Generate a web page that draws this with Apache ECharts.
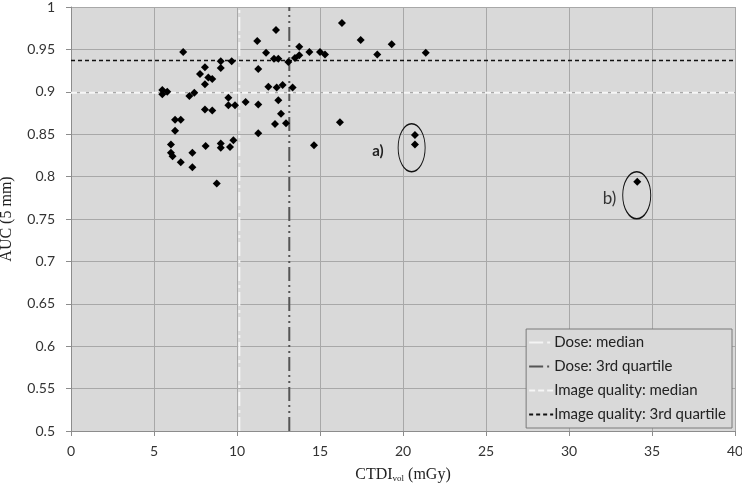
<!DOCTYPE html>
<html>
<head>
<meta charset="utf-8">
<script src="https://cdn.jsdelivr.net/npm/echarts@6/dist/echarts.min.js"></script>
<style>
  html, body { margin: 0; padding: 0; background: #fff; }
  #chart { width: 742px; height: 486px; }
</style>
</head>
<body>
<div id="chart"></div>
<script>
// CTDIvol (mGy) per protocol
const ctdi = [6.76, 8.07, 7.77, 8.27, 8.51, 8.07, 9.02, 9.02, 9.68, 5.50, 5.80, 5.50, 7.13, 7.43,
  9.48, 9.48, 9.88, 10.52, 11.28, 8.07, 8.51, 6.27, 6.61, 6.27, 11.28, 6.02, 6.02, 6.12, 6.61,
  7.31, 7.31, 8.11, 9.02, 9.02, 9.58, 9.78, 8.78, 11.22, 11.28, 12.35, 11.75, 12.23, 12.49,
  13.09, 13.49, 13.75, 13.75, 14.36, 15.00, 15.30, 16.32, 11.89, 12.39, 12.75, 13.35, 12.49,
  12.65, 12.29, 12.95, 16.20, 14.64, 17.45, 19.32, 18.45, 21.37, 20.72, 20.72, 34.11]
// AUC (5 mm) for the same protocols
const auc = [0.947, 0.929, 0.921, 0.917, 0.915, 0.909, 0.936, 0.928, 0.936, 0.902, 0.900, 0.897, 0.895, 0.899,
  0.893, 0.884, 0.884, 0.888, 0.885, 0.879, 0.878, 0.867, 0.867, 0.854, 0.851, 0.838, 0.828, 0.824, 0.817,
  0.828, 0.811, 0.836, 0.839, 0.834, 0.835, 0.843, 0.792, 0.960, 0.927, 0.973, 0.946, 0.939, 0.939,
  0.935, 0.940, 0.953, 0.943, 0.947, 0.947, 0.944, 0.981, 0.906, 0.905, 0.908, 0.905, 0.890,
  0.874, 0.862, 0.863, 0.864, 0.837, 0.961, 0.956, 0.944, 0.946, 0.849, 0.838, 0.794]

const doseMedian = 10.14
const doseQ3 = 13.15
const iqMedian = 0.899
const iqQ3 = 0.937

// annotated outliers (ellipse centres)
const outlierA = [20.52, 0.834]
const outlierB = [34.08, 0.778]

const xRange = [0, 40]
const yRange = [0.5, 1]

const points = ctdi.map((v, i) => [v, auc[i]])

const chart = echarts.init(document.getElementById('chart'))

const uiFont = 'Lato, "Open Sans", sans-serif'
const serifFont = '"Liberation Serif", "DejaVu Serif", serif'

chart.setOption({
  animation: false,
  backgroundColor: '#fff',
  grid: {
    left: 71,
    right: 7,
    top: 7,
    bottom: 55,
    outerBoundsMode: 'none',
    show: true,
    backgroundColor: '#d9d9d9',
    borderWidth: 0
  },
  xAxis: {
    type: 'value',
    min: xRange[0],
    max: xRange[1],
    interval: 5,
    name: '{a|CTDI}{b|vol}{a| (mGy)}',
    nameLocation: 'middle',
    nameGap: 35,
    nameMoveOverlap: false,
    nameTextStyle: {
      rich: {
        a: { fontFamily: serifFont, fontSize: 16, color: '#222' },
        b: { fontFamily: serifFont, fontSize: 9, color: '#222', padding: [8, 0, 0, 0] }
      }
    },
    axisLine: { show: true, lineStyle: { color: '#8c8c8c', width: 1 } },
    axisTick: { show: true, length: 5, lineStyle: { color: '#8c8c8c' } },
    axisLabel: { fontFamily: uiFont, fontSize: 14, color: '#333', margin: 13 },
    splitLine: { show: true, lineStyle: { color: '#a8a8a8', width: 1 } }
  },
  yAxis: {
    type: 'value',
    min: yRange[0],
    max: yRange[1],
    interval: 0.05,
    name: 'AUC (5 mm)',
    nameLocation: 'middle',
    nameGap: 56,
    nameMoveOverlap: false,
    nameTextStyle: { fontFamily: serifFont, fontSize: 16, color: '#222' },
    axisLine: { show: true, lineStyle: { color: '#8c8c8c', width: 1 } },
    axisTick: { show: true, length: 5, lineStyle: { color: '#8c8c8c' } },
    axisLabel: { fontFamily: uiFont, fontSize: 14, color: '#333', margin: 16 },
    splitLine: { show: true, lineStyle: { color: '#a8a8a8', width: 1 } }
  },
  legend: {
    orient: 'vertical',
    right: 10,
    bottom: 58,
    backgroundColor: '#d9d9d9',
    borderColor: '#7a7a7a',
    borderWidth: 1,
    padding: [6, 6, 6, 2],
    itemGap: 9,
    itemWidth: 24,
    itemHeight: 12,
    itemStyle: { opacity: 0 },
    textStyle: { fontFamily: uiFont, fontSize: 15, color: '#222', padding: [0, 0, 0, -4] },
    data: ['Dose: median', 'Dose: 3rd quartile', 'Image quality: median', 'Image quality: 3rd quartile']
  },
  series: [
    {
      name: 'Dose: median',
      type: 'line',
      symbol: 'none',
      silent: true,
      lineStyle: { color: '#f4f4f4', width: 2, type: [14, 4, 3, 4] },
      itemStyle: { color: '#f4f4f4' },
      data: [[doseMedian, yRange[0]], [doseMedian, yRange[1]]]
    },
    {
      name: 'Dose: 3rd quartile',
      type: 'line',
      symbol: 'none',
      silent: true,
      lineStyle: { color: '#555', width: 2, type: [14, 4, 2, 4, 2, 4] },
      itemStyle: { color: '#555' },
      data: [[doseQ3, yRange[0]], [doseQ3, yRange[1]]]
    },
    {
      name: 'Image quality: median',
      type: 'line',
      symbol: 'none',
      silent: true,
      lineStyle: { color: '#f6f6f6', width: 2, type: [6, 3] },
      itemStyle: { color: '#f6f6f6' },
      data: [[xRange[0], iqMedian], [xRange[1], iqMedian]]
    },
    {
      name: 'Image quality: 3rd quartile',
      type: 'line',
      symbol: 'none',
      silent: true,
      lineStyle: { color: '#111', width: 1.5, type: [4, 3] },
      itemStyle: { color: '#111' },
      data: [[xRange[0], iqQ3], [xRange[1], iqQ3]]
    },
    {
      name: 'AUC',
      type: 'scatter',
      symbol: 'diamond',
      symbolSize: 8,
      z: 5,
      itemStyle: { color: '#000', opacity: 1 },
      data: points,
      markPoint: {
        silent: true,
        symbol: 'circle',
        itemStyle: { color: 'rgba(0,0,0,0)', borderColor: '#111', borderWidth: 1.2, opacity: 1 },
        data: [
          {
            coord: outlierA,
            symbolSize: [27, 48],
            label: {
              show: true,
              formatter: 'a)',
              position: 'left',
              distance: 14,
              offset: [0, 3],
              fontFamily: uiFont,
              fontSize: 15,
              fontWeight: 'bold',
              color: '#222'
            }
          },
          {
            coord: outlierB,
            symbolSize: [28, 47],
            label: {
              show: true,
              formatter: 'b)',
              position: 'left',
              distance: 6,
              offset: [0, 3],
              fontFamily: uiFont,
              fontSize: 17,
              color: '#333'
            }
          }
        ]
      }
    }
  ]
})
</script>
</body>
</html>
